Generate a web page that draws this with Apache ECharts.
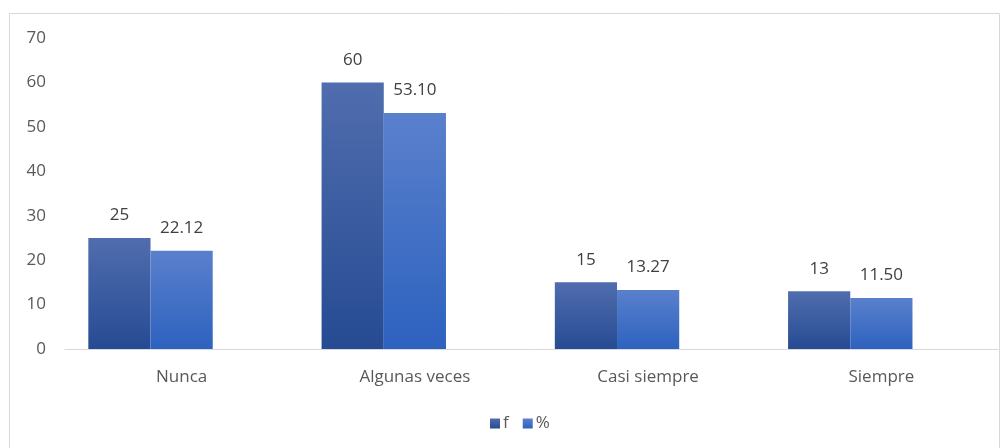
<!DOCTYPE html>
<html>
<head>
<meta charset="utf-8">
<script src="https://cdn.jsdelivr.net/npm/echarts@6/dist/echarts.min.js"></script>
<style>
    html, body { margin: 0; padding: 0; background: #fff; }
    #myChart { width: 1008px; height: 448px; }
</style>
</head>
<body>
<div id="myChart"></div>
<script>
    const categories = ['Nunca', 'Algunas veces', 'Casi siempre', 'Siempre'];
    const fValues = [25, 60, 15, 13];
    const pctValues = [22.12, 53.10, 13.27, 11.50];
    // the source chart keeps an empty third slot in every group
    const blankValues = [null, null, null, null];
    const seriesNames = ['f', '%'];

    function grad(top, bottom) {
        return new echarts.graphic.LinearGradient(0, 0, 0, 1, [
            { offset: 0, color: top },
            { offset: 1, color: bottom }
        ]);
    }

    const labelStyle = {
        show: true,
        position: 'top',
        distance: 14,
        color: '#404040',
        fontSize: 17,
        fontFamily: 'Open Sans'
    };

    let myChart = echarts.init(document.getElementById('myChart'));
    myChart.setOption({
        animation: false,
        textStyle: { fontFamily: 'Open Sans' },
        graphic: [{
            type: 'rect',
            shape: { x: 9.5, y: 13.5, width: 990, height: 440 },
            style: { fill: 'none', stroke: '#d9d9d9', lineWidth: 1 },
            silent: true
        }],
        grid: { left: 65, right: 10, top: 38, bottom: 99 },
        legend: {
            bottom: 11,
            left: 485,
            itemWidth: 10,
            itemHeight: 10,
            itemGap: 14,
            icon: 'rect',
            textStyle: { color: '#595959', fontSize: 17, padding: [0, 0, 0, -2] },
            data: seriesNames
        },
        xAxis: {
            type: 'category',
            data: categories,
            axisLine: { lineStyle: { color: '#d9d9d9', width: 1 } },
            axisTick: { show: false },
            axisLabel: { color: '#595959', fontSize: 17, margin: 20 }
        },
        yAxis: {
            type: 'value',
            min: 0,
            max: 70,
            interval: 10,
            splitLine: { show: false },
            axisLine: { show: false },
            axisTick: { show: false },
            axisLabel: { color: '#595959', fontSize: 17, margin: 19 }
        },
        series: [
            {
                name: seriesNames[0],
                type: 'bar',
                data: fValues,
                barGap: '0%',
                barCategoryGap: '20%',
                itemStyle: { color: grad('#506dae', '#264b93') },
                label: labelStyle
            },
            {
                name: seriesNames[1],
                type: 'bar',
                data: pctValues,
                itemStyle: { color: grad('#5a80cc', '#2d62bf') },
                label: Object.assign({}, labelStyle, {
                    formatter: p => p.value.toFixed(2)
                })
            },
            {
                name: 'blank',
                type: 'bar',
                data: blankValues,
                silent: true
            }
        ]
    });
</script>
</body>
</html>
